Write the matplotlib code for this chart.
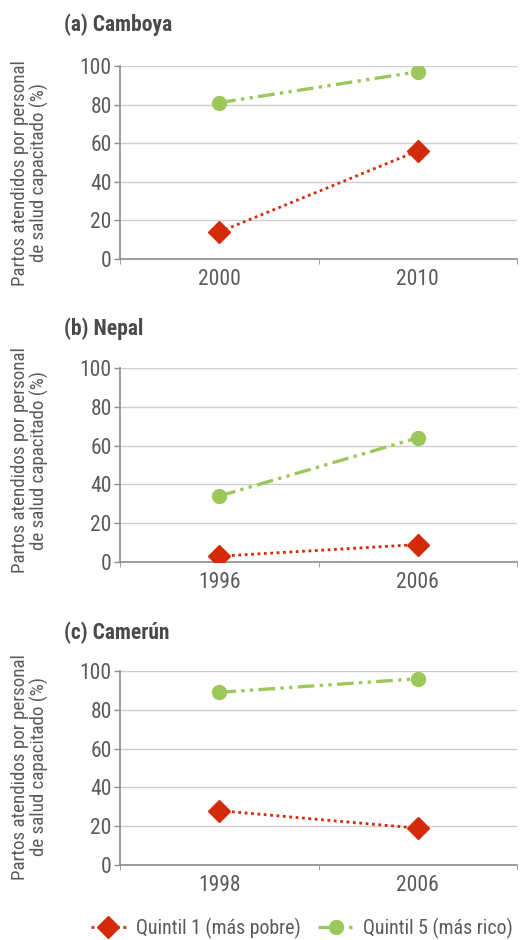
import matplotlib
matplotlib.use("Agg")
import matplotlib.pyplot as plt
from matplotlib.lines import Line2D
from matplotlib.ticker import FixedLocator

plt.rcParams['font.family'] = ['Roboto Condensed', 'DejaVu Sans']

# Panel titles and survey years
titles = ["(a) Camboya", "(b) Nepal", "(c) Camerún"]
years = [["2000", "2010"], ["1996", "2006"], ["1998", "2006"]]

# Births attended by skilled health personnel (%)
quintil1 = [[14, 56], [3, 9], [28, 19]]
quintil5 = [[81, 97], [34, 64], [89, 96]]

series_labels = ["Quintil 1 (más pobre)", "Quintil 5 (más rico)"]
ylabel = "Partos atendidos por personal\nde salud capacitado (%)"

RED = "#D42A0C"
GREEN = "#9CC75A"
TEXT = "#5A5A5A"
TITLE = "#4A4A4A"
GRID = "#CDCDCD"
SPINE = "#8C8C8C"

RED_LS = (0, (1, 1.3))
GREEN_LS = (0, (5, 1.6, 1, 1.6, 1, 1.6))

W, H = 520, 940
fig = plt.figure(figsize=(W / 100, H / 100), dpi=100)

# axes extents in pixels: (left, right, top, bottom)
boxes = [(120, 517, 66, 259), (120, 517, 368, 562), (120, 517, 671, 865)]
title_y = [25, 329, 633]
label_y = [173, 460, 767]

for i, (l, r, t, b) in enumerate(boxes):
    ax = fig.add_axes([l / W, 1 - b / H, (r - l) / W, (b - t) / H])
    x = list(range(len(years[i])))
    ax.plot(x, quintil1[i], color=RED, linestyle=RED_LS, linewidth=2.0,
            marker="D", markersize=11, markeredgecolor=RED, zorder=3)
    ax.plot(x, quintil5[i], color=GREEN, linestyle=GREEN_LS,
            linewidth=2.4, marker="o", markersize=10, markeredgecolor=GREEN, zorder=3)
    ax.set_xlim(-0.5, 1.5)
    ax.set_ylim(0, 100)
    ax.set_yticks([0, 20, 40, 60, 80, 100])
    ax.set_xticks(x)
    ax.set_xticklabels(years[i])
    ax.xaxis.set_minor_locator(FixedLocator([-0.5, 0.5, 1.5]))
    ax.tick_params(axis="x", which="major", length=0, pad=7,
                   labelsize=15.5, labelcolor=TEXT)
    ax.tick_params(axis="x", which="minor", length=3.5, color=SPINE, direction="out")
    ax.tick_params(axis="y", length=4, color=SPINE, width=1, pad=2,
                   labelsize=15.5, labelcolor=TEXT)
    ax.grid(axis="y", color=GRID, linewidth=1.0)
    ax.set_axisbelow(True)
    for s in ["top", "right"]:
        ax.spines[s].set_visible(False)
    for s in ["left", "bottom"]:
        ax.spines[s].set_color(SPINE)
        ax.spines[s].set_linewidth(1.2)
    fig.text(30 / W, 1 - label_y[i] / H, ylabel, rotation=90, fontsize=13.7,
             color=TEXT, ha="center", va="center", linespacing=1.0,
             multialignment="center")
    fig.text(64 / W, 1 - title_y[i] / H, titles[i], fontsize=15.5, fontweight="bold",
             color=TITLE, ha="left", va="center")

handles = [
    Line2D([], [], color=RED, linestyle=RED_LS, linewidth=2.0,
           marker="D", markersize=11),
    Line2D([], [], color=GREEN, linestyle=GREEN_LS, linewidth=2.4,
           marker="o", markersize=10),
]
fig.legend(handles, series_labels, loc="center", bbox_to_anchor=(302 / W, 1 - 928 / H),
           ncol=2, frameon=False, fontsize=14.3, labelcolor=TEXT,
           handlelength=1.75, columnspacing=0.9, handletextpad=0.5,
           borderpad=0, borderaxespad=0)

fig.savefig("out.png", dpi=100)
